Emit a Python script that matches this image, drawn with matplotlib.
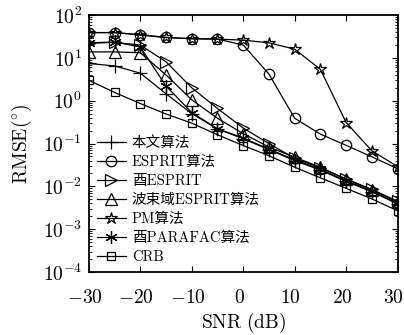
import matplotlib
matplotlib.use('Agg')
import matplotlib.pyplot as plt
import matplotlib.transforms as mtransforms
from matplotlib.ticker import LogLocator, NullFormatter

plt.rcParams['mathtext.fontset'] = 'cm'
plt.rcParams['font.family'] = ['cmr10', 'Noto Sans CJK SC']
plt.rcParams['axes.formatter.use_mathtext'] = True

snr = [-30, -25, -20, -15, -10, -5, 0, 5, 10, 15, 20, 25, 30]

proposed = [7.4, 6.5, 4.4, 1.45, 0.5, 0.22, 0.13, 0.072, 0.040, 0.024, 0.013, 0.0075, 0.0039]
esprit = [39, 39, 34, 30, 28, 27.5, 20, 4.2, 0.39, 0.166, 0.091, 0.049, 0.026]
uni_esprit = [22, 23, 20, 8.1, 2.0, 0.66, 0.23, 0.10, 0.045, 0.027, 0.015, 0.0085, 0.0045]
beam_esprit = [13.8, 13.8, 13.2, 4.0, 1.05, 0.39, 0.17, 0.083, 0.048, 0.028, 0.0145, 0.0083, 0.0043]
pm = [39, 39, 35, 30, 28, 27.5, 26, 22.5, 16, 5.4, 0.31, 0.068, 0.029]
uni_parafac = [22.5, 23.5, 18, 2.2, 0.53, 0.22, 0.135, 0.074, 0.042, 0.025, 0.0135, 0.0078, 0.0040]
crb = [3.0, 1.56, 0.86, 0.49, 0.3, 0.16, 0.09, 0.052, 0.028, 0.0158, 0.009, 0.0051, 0.0027]

labels = ['本文算法', 'ESPRIT算法', '酉ESPRIT', '波束域ESPRIT算法', 'PM算法', '酉PARAFAC算法', 'CRB']
series = [proposed, esprit, uni_esprit, beam_esprit, pm, uni_parafac, crb]
markers = ['+', 'o', '>', '^', '*', (6, 2, 0), 's']
sizes = [10, 7.5, 8.5, 8.5, 9, 9, 6]

fig = plt.figure(figsize=(4.04, 3.35), dpi=100)
ax = fig.add_axes([0.220, 0.188, 0.764, 0.767])

for y, lab, m, ms in zip(series, labels, markers, sizes):
    ax.semilogy(snr, y, color='black', linewidth=0.9, marker=m, markersize=ms,
                markerfacecolor='none', markeredgecolor='black', markeredgewidth=0.9,
                label=lab)

ax.set_xlim(-30, 30)
ax.set_ylim(1e-4, 1e2)
ax.set_xticks([-30, -20, -10, 0, 10, 20, 30])
ax.set_xticklabels([r'$-30$', r'$-20$', r'$-10$', r'$0$', r'$10$', r'$20$', r'$30$'])
ax.set_yticks([1e-4, 1e-3, 1e-2, 1e-1, 1e0, 1e1, 1e2])
ax.set_yticklabels([r'$10^{-4}$', r'$10^{-3}$', r'$10^{-2}$', r'$10^{-1}$',
                    r'$10^{0}$', r'$10^{1}$', r'$10^{2}$'])
ax.yaxis.set_minor_locator(LogLocator(base=10, subs=range(2, 10), numticks=20))
ax.yaxis.set_minor_formatter(NullFormatter())
ax.tick_params(which='both', direction='in', top=True, right=True, labelsize=14)
ax.tick_params(which='major', length=4, width=0.8)
ax.tick_params(which='minor', length=2, width=0.6)
ax.tick_params(axis='x', pad=12)
ax.tick_params(axis='y', pad=5)
for s in ax.spines.values():
    s.set_linewidth(1.3)

# x tick labels sit a little left of their ticks in the original
shift = mtransforms.ScaledTranslation(-4 / 100, 0, fig.dpi_scale_trans)
for t in ax.get_xticklabels():
    t.set_transform(t.get_transform() + shift)

ax.set_xlabel(r'$\mathrm{SNR\ (dB)}$', fontsize=14, labelpad=3)
ax.set_ylabel(r'$\mathrm{RMSE}(^{\circ})$', fontsize=14, labelpad=6)

ax.legend(loc='lower left', frameon=False, fontsize=10.5, handlelength=2.0,
          handletextpad=0.4, labelspacing=0.36, borderaxespad=0.15,
          bbox_to_anchor=(0.0, 0.0))

fig.savefig('out.png', dpi=100)
